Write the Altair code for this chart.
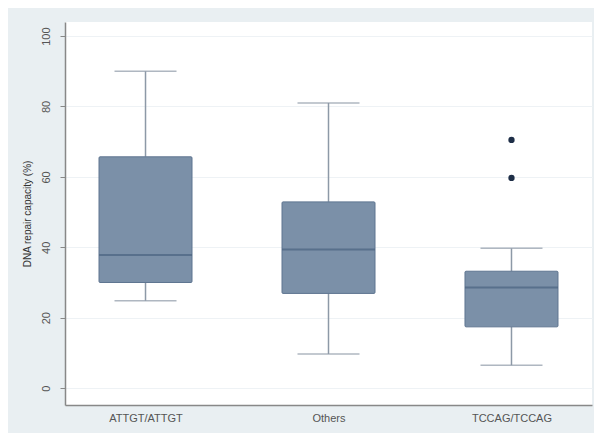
import altair as alt
import pandas as pd

groups = ["ATTGT/ATTGT", "Others", "TCCAG/TCCAG"]
lower_whisker = [24.8, 9.7, 6.5]
q1 = [30.0, 26.9, 17.4]
median = [37.8, 39.4, 28.6]
q3 = [65.7, 52.9, 33.2]
upper_whisker = [90.0, 81.0, 39.7]
outlier_group = ["TCCAG/TCCAG", "TCCAG/TCCAG"]
outlier_value = [70.5, 59.7]

stats = pd.DataFrame({
    "group": groups, "lo": lower_whisker, "q1": q1, "med": median,
    "q3": q3, "hi": upper_whisker,
})
outs = pd.DataFrame({"group": outlier_group, "v": outlier_value})

W, H = 527, 383
xs = alt.X("group:N", sort=groups, title=None,
           scale=alt.Scale(type="point", padding=0.44),
           axis=alt.Axis(labelAngle=0, ticks=False, labelFontSize=11, labelColor="#555",
                         labelFont="Liberation Sans", labelPadding=7, domainColor="#888",
                         domainWidth=1.5, grid=False))
yscale = alt.Scale(domain=[-4.8, 104], nice=False, zero=False)
yaxis = alt.Axis(values=[0, 20, 40, 60, 80, 100], labelAngle=-90, labelAlign="center",
                 labelBaseline="bottom", labelColor="#555", labelFontSize=11,
                 labelFont="Liberation Sans", tickColor="#888", tickSize=5,
                 domainColor="#888", domainWidth=1.5, gridColor="#eef2f5", gridWidth=1,
                 title="DNA repair capacity (%)", titleFont="Liberation Sans",
                 titleFontSize=10, titleFontWeight="normal", titleColor="#333",
                 titlePadding=8, labelPadding=9)

base = alt.Chart(stats)
whisk_lo = base.mark_rule(color="#8d99a7", strokeWidth=1.5).encode(
    x=xs, y=alt.Y("lo:Q", scale=yscale, axis=yaxis), y2="q1:Q")
whisk_hi = base.mark_rule(color="#8d99a7", strokeWidth=1.5).encode(
    x=xs, y=alt.Y("q3:Q", scale=yscale), y2="hi:Q")
cap_lo = base.mark_tick(color="#8d99a7", size=62, thickness=1.5, orient="horizontal").encode(
    x=xs, y=alt.Y("lo:Q", scale=yscale))
cap_hi = base.mark_tick(color="#8d99a7", size=62, thickness=1.5, orient="horizontal").encode(
    x=xs, y=alt.Y("hi:Q", scale=yscale))
box = base.mark_bar(size=93, color="#7b90a8", stroke="#5f7590", strokeWidth=1,
                    cornerRadius=1).encode(
    x=xs, y=alt.Y("q1:Q", scale=yscale), y2="q3:Q")
med = base.mark_tick(color="#4a6280", size=93, thickness=2, orient="horizontal").encode(
    x=xs, y=alt.Y("med:Q", scale=yscale))
pts = alt.Chart(outs).mark_circle(size=40, color="#1e2e47", opacity=1).encode(
    x=xs, y=alt.Y("v:Q", scale=yscale))

chart = alt.layer(whisk_lo, whisk_hi, cap_lo, cap_hi, box, med, pts).properties(
    width=W, height=H,
    autosize=alt.AutoSizeParams(type="none"),
    padding={"left": 57, "top": 14, "right": 2, "bottom": 28},
    background="#e9eff2",
).configure_view(fill="white", stroke=None)

chart.save("out.html", embed_options={"renderer": "svg", "actions": False})
